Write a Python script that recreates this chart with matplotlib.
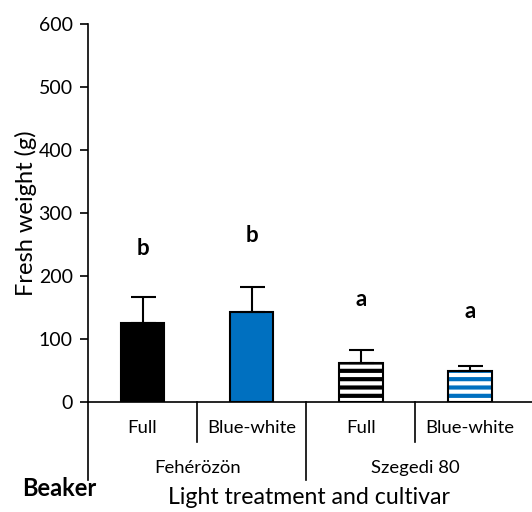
import matplotlib
matplotlib.use("Agg")
import matplotlib.pyplot as plt

categories = ["Full", "Blue-white", "Full", "Blue-white"]
cultivars = ["Fehérözön", "Szegedi 80"]
values = [125, 143, 62, 49]
errors = [42, 40, 20, 8]
letters = ["b", "b", "a", "a"]
letter_y = [244, 265, 162, 143]
yticks = [0, 100, 200, 300, 400, 500, 600]

plt.rcParams['font.family'] = ['Lato', 'DejaVu Sans']
plt.rcParams['hatch.linewidth'] = 3.0

fig = plt.figure(figsize=(5.32, 5.12), dpi=100)
ax = fig.add_axes([88/532, 1-402/512, 1-88/532, 378/512])
ax.set_xlim(-0.5, 3.57)
ax.set_ylim(0, 600)

x = list(range(len(values)))
w = 0.4
blue = "#0070C0"
# solid bars
ax.bar(x[0], values[0], w, color="black", edgecolor="black", linewidth=1.5, zorder=2)
ax.bar(x[1], values[1], w, color=blue, edgecolor="black", linewidth=1.5, zorder=2)
# striped bars
ax.bar(x[2], values[2], w, color="white", edgecolor="black", hatch="--", linewidth=0, zorder=2)
ax.bar(x[3], values[3], w, color="white", edgecolor=blue, hatch="--", linewidth=0, zorder=2)
ax.bar(x[2:], values[2:], w, fill=False, edgecolor="black", linewidth=1.5, zorder=3)

ax.errorbar(x, values, yerr=[[0]*4, errors], fmt="none", ecolor="black",
            elinewidth=1.5, capsize=9, capthick=1.5, zorder=4)

for xi, l, ly in zip(x, letters, letter_y):
    ax.text(xi, ly, l, ha="center", va="center", fontsize=16, fontweight="bold")

for s in ["top", "right"]:
    ax.spines[s].set_visible(False)
ax.spines["left"].set_linewidth(1.2)
ax.spines["bottom"].set_linewidth(1.2)
ax.set_yticks(yticks)
ax.tick_params(axis="y", direction="out", length=6, width=1.2, labelsize=14, pad=5)
ax.set_xticks([])
ax.set_ylabel("Fresh weight (g)", fontsize=17, labelpad=1)

tr = ax.get_xaxis_transform()
# first-level separators
for xs in [0.5, 2.5]:
    ax.plot([xs, xs], [0, -0.106], color="black", lw=1.2, transform=tr, clip_on=False)
# second-level separators
for xs in [-0.5, 1.5]:
    ax.plot([xs, xs], [0, -0.206], color="black", lw=1.2, transform=tr, clip_on=False)

for xi, c in zip(x, categories):
    ax.text(xi, -0.069, c, ha="center", va="center", fontsize=13.3, transform=tr)
for i, c in enumerate(cultivars):
    ax.text(0.5 + 2*i, -0.175, c, ha="center", va="center", fontsize=13.3, transform=tr)

fig.text(0.58, 1-498/512, "Light treatment and cultivar", ha="center", va="center", fontsize=16.7)
fig.text(22/532, 1-488/512, "Beaker", ha="left", va="center", fontsize=17, fontweight="bold")

fig.savefig("out.png", dpi=100)
